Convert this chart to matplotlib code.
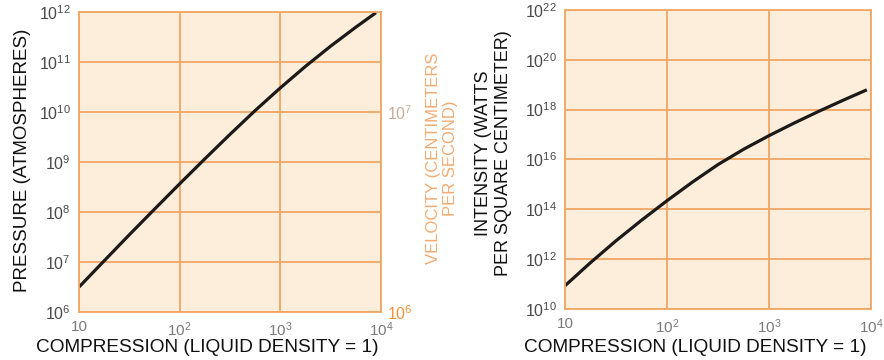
import numpy as np
import matplotlib.pyplot as plt
from matplotlib.ticker import FixedLocator, NullLocator

plt.rcParams['font.family'] = 'Liberation Sans'
plt.rcParams['mathtext.fontset'] = 'custom'
plt.rcParams['mathtext.rm'] = 'Liberation Sans'
plt.rcParams['mathtext.it'] = 'Liberation Sans:italic'
plt.rcParams['mathtext.bf'] = 'Liberation Sans:bold'

# compression (liquid density = 1) and the two curves read along it
compression = [10, 17.8, 31.6, 56.2, 100, 178, 316, 562, 1000, 1778, 3162, 5623, 8913]
pressure = [3.16e6, 1.06e7, 3.51e7, 1.14e8, 3.67e8, 1.16e9, 3.57e9,
            1.07e10, 3.04e10, 8.2e10, 2.08e11, 4.98e11, 9.7e11]

compression_i = [10, 17.8, 31.6, 56.2, 100, 178, 316, 562, 1000, 1778, 3162, 5623, 9120]
intensity = [8.5e10, 7.2e11, 5.4e12, 3.6e13, 2.2e14, 1.24e15, 6.2e15,
             2.54e16, 9.0e16, 2.93e17, 9.0e17, 2.62e18, 6.24e18]

x_ticks = [10, 1e2, 1e3, 1e4]
x_labels = ['10', '$10^2$', '$10^3$', '$10^4$']
p_ticks = [1e6, 1e7, 1e8, 1e9, 1e10, 1e11, 1e12]
p_labels = ['$10^6$', '$10^7$', '$10^8$', '$10^9$', '$10^{10}$', '$10^{11}$', '$10^{12}$']
v_ticks = [1e6, 1e7]
v_labels = ['$10^6$', '$10^7$']
i_ticks = [1e10, 1e12, 1e14, 1e16, 1e18, 1e20, 1e22]
i_labels = ['$10^{10}$', '$10^{12}$', '$10^{14}$', '$10^{16}$', '$10^{18}$', '$10^{20}$', '$10^{22}$']

paper = '#fdeedb'
rule = '#f0a765'
ink = '#1c1a18'


def style(ax, yticks, ylabels, ylim):
    ax.set_facecolor(paper)
    ax.set_xscale('log')
    ax.set_yscale('log')
    ax.set_xlim(10, 1e4)
    ax.set_ylim(*ylim)
    ax.xaxis.set_major_locator(FixedLocator(x_ticks))
    ax.xaxis.set_minor_locator(NullLocator())
    ax.yaxis.set_major_locator(FixedLocator(yticks))
    ax.yaxis.set_minor_locator(NullLocator())
    ax.set_xticklabels(x_labels, color='#7a7a7a', fontsize=11)
    ax.set_yticklabels(ylabels, color='#4a4a4a', fontsize=11.5)
    ax.tick_params(length=0, pad=6)
    ax.grid(True, color=rule, linewidth=1.3)
    ax.set_axisbelow(True)
    for s in ax.spines.values():
        s.set_color(rule)
        s.set_linewidth(1.3)


fig = plt.figure(figsize=(8.84, 3.6), dpi=100)

# pressure vs compression, velocity scale on the right
ax1 = fig.add_axes([0.0894, 0.1333, 0.3416, 0.8333])
style(ax1, p_ticks, p_labels, (1e6, 1e12))
ax1.plot(compression, pressure, color=ink, linewidth=2.3, solid_capstyle='butt')

ax2 = ax1.twinx()
ax2.set_yscale('log')
ax2.set_ylim(1e6, 10 ** 7.5)
ax2.yaxis.set_major_locator(FixedLocator(v_ticks))
ax2.yaxis.set_minor_locator(NullLocator())
ax2.set_yticklabels(v_labels, fontsize=11.5)
ax2.tick_params(length=0, pad=4)
ax2.get_yticklabels()[0].set_color('#f0943a')
ax2.get_yticklabels()[1].set_color('#c8ae9a')
for s in ax2.spines.values():
    s.set_visible(False)

# intensity vs compression
ax3 = fig.add_axes([0.639, 0.1417, 0.3462, 0.8306])
style(ax3, i_ticks, i_labels, (1e10, 1e22))
ax3.plot(compression_i, intensity, color=ink, linewidth=2.3, solid_capstyle='butt')

fig.text(0.0249, 0.556, 'PRESSURE (ATMOSPHERES)', rotation=90,
         ha='center', va='center', fontsize=13.5, color='#111111')
fig.text(0.500, 0.561, 'VELOCITY (CENTIMETERS\nPER SECOND)', rotation=90,
         ha='center', va='center', fontsize=12, color='#f1ab72',
         multialignment='center', linespacing=1.2)
fig.text(0.5585, 0.575, 'INTENSITY (WATTS\nPER SQUARE CENTIMETER)', rotation=90,
         ha='center', va='center', fontsize=13, color='#111111',
         multialignment='center', linespacing=1.25)
fig.text(0.234, 0.036, 'COMPRESSION (LIQUID DENSITY = 1)',
         ha='center', va='center', fontsize=13.7, color='#111111')
fig.text(0.786, 0.036, 'COMPRESSION (LIQUID DENSITY = 1)',
         ha='center', va='center', fontsize=13.7, color='#111111')

fig.savefig('out.png', dpi=100, facecolor='white')
